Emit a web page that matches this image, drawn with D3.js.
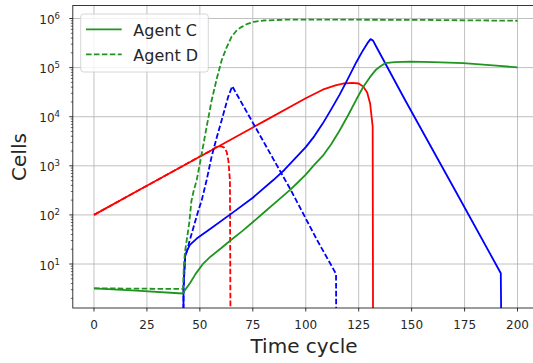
<!DOCTYPE html>
<html>
<head>
<meta charset="utf-8">
<script src="https://cdn.jsdelivr.net/npm/d3@7"></script>
<style>
  html, body { margin: 0; padding: 0; background: #fff; }
  svg { display: block; font-family: "DejaVu Sans", sans-serif; }
</style>
</head>
<body>
<svg id="chart" width="533" height="363"></svg>
<script>
// ---------------- data ----------------
const xTickValues = [0, 25, 50, 75, 100, 125, 150, 175, 200];
const xTickLabels = ["0", "25", "50", "75", "100", "125", "150", "175", "200"];
const yTickValues = [10, 100, 1000, 10000, 100000, 1000000];
const yTickExponents = ["1", "2", "3", "4", "5", "6"];

// red solid
const redSolidTime  = [0, 20, 40, 60, 80, 100, 108, 114, 118, 122, 125, 127.2, 129, 130.4, 131.2, 131.6, 131.9];
const redSolidCells = [100, 299, 891, 2660, 7940, 23700, 35500, 43500, 47500, 49000, 47500, 41000, 31000, 18600, 9000, 6300, 0];
// red dashed
const redDashedTime  = [0, 20, 40, 50, 55, 57.5, 60, 61.5, 62.7, 63.5, 64.2, 64.7];
const redDashedCells = [100, 299, 891, 1550, 2000, 2400, 2500, 2350, 1900, 1250, 500, 0];
// blue solid
const blueSolidTime  = [41.9, 42.3, 43, 44, 45.3, 48.5, 55, 64.7, 75, 84.7, 90, 95, 100, 104, 108, 112, 116, 120, 124, 127, 129.5, 130.6, 131.8, 133, 146.9, 170, 192.1, 192.9];
const blueSolidCells = [0, 3.2, 14, 19, 24.5, 33, 52, 105, 224, 513, 832, 1410, 2400, 3980, 7240, 14100, 28200, 60300, 132000, 224000, 331000, 380000, 355000, 282000, 21900, 350, 6.5, 0];
// blue dashed
const blueDashedTime  = [41.9, 42.3, 43, 44, 45, 47, 49, 50.9, 53.2, 55.6, 58, 60.3, 63.4, 65.3, 92.9, 105.2, 114.3, 114.6];
const blueDashedCells = [0, 3.2, 14, 19, 28, 56, 112, 200, 513, 1580, 3800, 8500, 25700, 41700, 324, 31.6, 6.3, 0];
// Agent C (green solid)
const agentCTime  = [0, 20, 41.9, 43, 45.3, 48, 51.6, 55, 60, 64.7, 70, 75.2, 81.6, 87, 92.6, 96, 100, 104, 108, 112, 116, 120, 124, 127.2, 130.4, 133, 135.1, 137.5, 142, 149.3, 160, 174.4, 190, 200];
const agentCCells = [3.2, 2.88, 2.51, 2.95, 4.07, 6.3, 10.2, 14.1, 20.9, 30.9, 46.8, 72.4, 126, 200, 324, 447, 661, 1047, 1585, 2754, 5248, 10700, 22900, 40700, 64600, 89100, 105000, 123000, 129000, 132000, 129000, 123000, 110000, 101000];
// Agent D (green dashed)
const agentDTime  = [0, 20, 42, 42.5, 43, 44, 45, 46, 47, 48.5, 50.9, 53, 55.6, 58, 60.3, 62.5, 65, 67.5, 69.8, 72.5, 75.3, 80, 90, 100, 150, 200];
const agentDCells = [3.2, 3.15, 3.1, 10, 18, 35, 70, 190, 300, 510, 1780, 5600, 21900, 60000, 141000, 250000, 427000, 580000, 676000, 780000, 851000, 910000, 945000, 950000, 940000, 900000];

const legendLabels = ["Agent C", "Agent D"];

// ---------------- layout ----------------
const svg = d3.select("#chart");
const pLeft = 72.8, pRight = 538.7, pTop = 5.5, pBottom = 308;

const x = d3.scaleLinear().domain([-10, 210]).range([pLeft, pRight]);
const y = d3.scaleLog().domain([Math.pow(10, 0.104), Math.pow(10, 6.265)]).range([pBottom, pTop]);

svg.append("defs").append("clipPath").attr("id", "clip")
  .append("rect").attr("x", pLeft).attr("y", pTop).attr("width", pRight - pLeft).attr("height", pBottom - pTop);

// grid
const grid = svg.append("g");
grid.selectAll("line.gx").data(xTickValues).enter().append("line")
  .attr("x1", d => x(d)).attr("x2", d => x(d)).attr("y1", pTop).attr("y2", pBottom)
  .attr("stroke", "#b0b0b0").attr("stroke-width", 0.8);
grid.selectAll("line.gy").data(yTickValues).enter().append("line")
  .attr("x1", pLeft).attr("x2", pRight).attr("y1", d => y(d)).attr("y2", d => y(d))
  .attr("stroke", "#b0b0b0").attr("stroke-width", 0.8);

// lines
const MINV = 1e-3; // nonpositive values clipped far below the axis (log scale)
function series(times, cells) { return times.map((t, i) => [t, Math.max(cells[i], MINV)]); }
const line = d3.line().x(d => x(d[0])).y(d => y(d[1]));
const plot = svg.append("g").attr("clip-path", "url(#clip)");
const dash = "5.55,2.4";
const GREEN = "#1f951f";
const specs = [
  { t: redSolidTime, c: redSolidCells, color: "#ff0000", dash: null },
  { t: redDashedTime, c: redDashedCells, color: "#ff0000", dash: dash },
  { t: blueSolidTime, c: blueSolidCells, color: "#0000ff", dash: null },
  { t: blueDashedTime, c: blueDashedCells, color: "#0000ff", dash: dash },
  { t: agentCTime, c: agentCCells, color: GREEN, dash: null },
  { t: agentDTime, c: agentDCells, color: GREEN, dash: dash }
];
specs.forEach(s => {
  plot.append("path").datum(series(s.t, s.c))
    .attr("d", line).attr("fill", "none").attr("stroke", s.color)
    .attr("stroke-width", 1.8).attr("stroke-linejoin", "round")
    .attr("stroke-dasharray", s.dash);
});

// spines
svg.append("rect").attr("x", pLeft).attr("y", pTop).attr("width", pRight - pLeft).attr("height", pBottom - pTop)
  .attr("fill", "none").attr("stroke", "#222").attr("stroke-width", 0.9);

// x ticks
const xt = svg.append("g");
xTickValues.forEach((v, i) => {
  xt.append("line").attr("x1", x(v)).attr("x2", x(v)).attr("y1", pBottom).attr("y2", pBottom + 3.5)
    .attr("stroke", "#000").attr("stroke-width", 0.8);
  xt.append("text").attr("x", x(v)).attr("y", 329).attr("text-anchor", "middle")
    .attr("font-size", 12).attr("fill", "#262626").text(xTickLabels[i]);
});

// y ticks
const yt = svg.append("g");
const minorTicks = y.ticks().filter(v => yTickValues.indexOf(v) < 0);
minorTicks.forEach(v => {
  yt.append("line").attr("x1", pLeft - 2).attr("x2", pLeft).attr("y1", y(v)).attr("y2", y(v))
    .attr("stroke", "#000").attr("stroke-width", 0.6);
});
yTickValues.forEach((v, i) => {
  yt.append("line").attr("x1", pLeft - 3.5).attr("x2", pLeft).attr("y1", y(v)).attr("y2", y(v))
    .attr("stroke", "#000").attr("stroke-width", 0.8);
  const t = yt.append("text").attr("x", 60).attr("y", y(v) + 5.5).attr("text-anchor", "end")
    .attr("font-size", 12).attr("fill", "#262626");
  t.append("tspan").text("10");
  t.append("tspan").attr("font-size", 8.5).attr("dy", -5).text(yTickExponents[i]);
});

// axis labels
svg.append("text").attr("x", 304).attr("y", 353).attr("text-anchor", "middle")
  .attr("font-size", 20).attr("fill", "#262626").text("Time cycle");
svg.append("text").attr("transform", "translate(26,157) rotate(-90)").attr("text-anchor", "middle")
  .attr("font-size", 20).attr("fill", "#262626").text("Cells");

// legend
const lg = svg.append("g");
lg.append("rect").attr("x", 80.7).attr("y", 14).attr("width", 127.6).attr("height", 58).attr("rx", 3)
  .attr("fill", "#fff").attr("fill-opacity", 0.8).attr("stroke", "#cccccc").attr("stroke-width", 0.8);
[null, dash].forEach((d, i) => {
  const ly = 29.3 + i * 25;
  lg.append("line").attr("x1", 86).attr("x2", 121.7).attr("y1", ly).attr("y2", ly)
    .attr("stroke", GREEN).attr("stroke-width", 1.8).attr("stroke-dasharray", d);
  lg.append("text").attr("x", 133.3).attr("y", ly + 6.5).attr("font-size", 16).attr("fill", "#262626")
    .text(legendLabels[i]);
});
</script>
</body>
</html>
